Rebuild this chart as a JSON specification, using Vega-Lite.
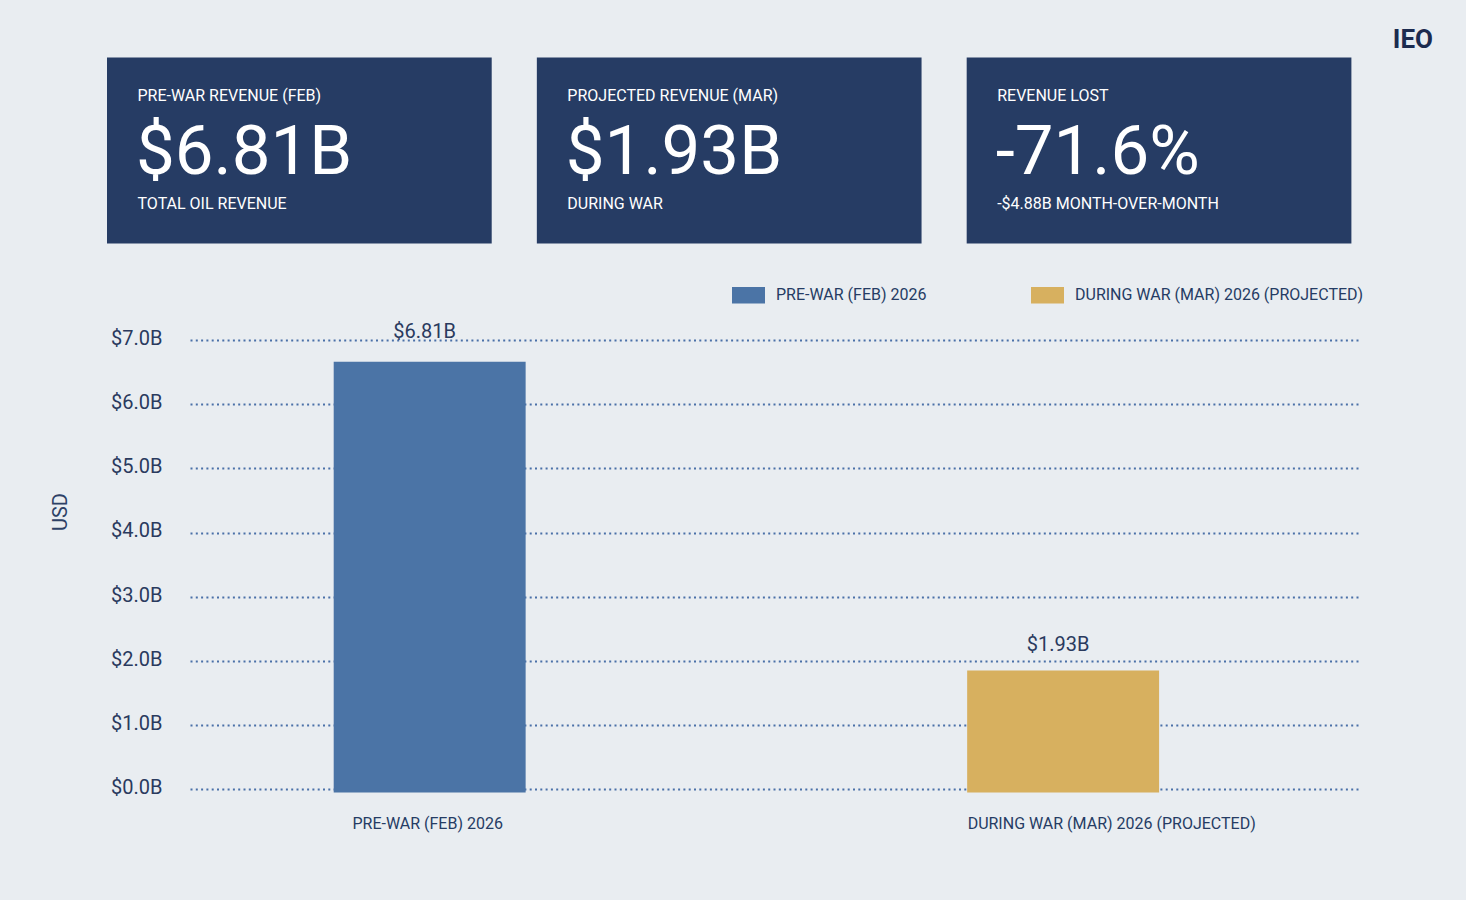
{
  "$schema": "https://vega.github.io/schema/vega-lite/v6.json",
  "background": "#e9edf1",
  "padding": {"left": 50, "top": 26.5, "right": 34, "bottom": 69},
  "config": {"font": "Roboto", "view": {"stroke": null}},
  "title": {"text": "IEO", "anchor": "end", "frame": "bounds", "dx": 69, "offset": -16.5, "baseline": "alphabetic", "fontSize": 26, "fontWeight": "bold", "color": "#1c2b4f", "font": "Roboto"},
  "bounds": "flush",
  "spacing": 96.5,
  "vconcat": [
    {
      "width": 1244.4,
      "height": 186,
      "data": {"values": [
        {"card": "pre", "label": "PRE-WAR REVENUE (FEB)", "value": "$6.81B", "note": "TOTAL OIL REVENUE"},
        {"card": "proj", "label": "PROJECTED REVENUE (MAR)", "value": "$1.93B", "note": "DURING WAR"},
        {"card": "lost", "label": "REVENUE LOST", "value": "-71.6%", "note": "-$4.88B MONTH-OVER-MONTH"}
      ]},
      "encoding": {"x": {"field": "card", "type": "nominal", "sort": null, "scale": {"paddingInner": 0.105, "paddingOuter": 0}, "axis": null}},
      "layer": [
        {"mark": {"type": "rect", "color": "#263c64"}},
        {
          "mark": {"type": "text", "align": "left", "baseline": "middle", "dx": 30.5, "dy": 1, "fontSize": 16, "color": "#ffffff"},
          "encoding": {
            "x": {"field": "card", "type": "nominal", "sort": null, "bandPosition": 0, "axis": null},
            "y": {"datum": "label", "type": "nominal", "scale": {"type": "point", "domain": ["label", "value", "note"], "padding": 0.69}, "axis": null},
            "text": {"field": "label"}
          }
        },
        {
          "mark": {"type": "text", "align": "left", "baseline": "middle", "dx": 29, "dy": 2, "fontSize": 69, "color": "#ffffff"},
          "encoding": {
            "x": {"field": "card", "type": "nominal", "sort": null, "bandPosition": 0, "axis": null},
            "y": {"datum": "value", "type": "nominal", "axis": null},
            "text": {"field": "value"}
          }
        },
        {
          "mark": {"type": "text", "align": "left", "baseline": "middle", "dx": 30.5, "dy": -2, "fontSize": 16, "color": "#ffffff"},
          "encoding": {
            "x": {"field": "card", "type": "nominal", "sort": null, "bandPosition": 0, "axis": null},
            "y": {"datum": "note", "type": "nominal", "axis": null},
            "text": {"field": "note"}
          }
        }
      ]
    },
    {
      "bounds": "flush",
      "spacing": 0,
      "hconcat": [
        {
          "width": 83,
          "height": 452.5,
          "data": {"values": [{}]},
          "mark": {"type": "text"},
          "encoding": {"text": {"value": ""}}
        },
        {
          "width": 1170,
          "height": 452.5,
          "data": {"values": [
            {"period": "PRE-WAR (FEB) 2026", "revenue": 6.81, "label": "$6.81B"},
            {"period": "DURING WAR (MAR) 2026 (PROJECTED)", "revenue": 1.93, "label": "$1.93B"}
          ]},
          "encoding": {
            "x": {
              "field": "period", "type": "nominal", "sort": null,
              "scale": {"paddingInner": 0.697, "paddingOuter": 0.272, "align": 0.417},
              "axis": {
                "title": null, "ticks": false, "domain": false, "labelAngle": 0,
                "labelFontSize": 16, "labelColor": "#253c64", "labelPadding": 22.5, "labelLimit": 0,
                "labelAlign": {"condition": {"test": "datum.value === 'DURING WAR (MAR) 2026 (PROJECTED)'", "value": "left"}, "value": "center"},
                "labelOffset": {"condition": {"test": "datum.value === 'DURING WAR (MAR) 2026 (PROJECTED)'", "value": -95.5}, "value": -2}
              }
            }
          },
          "layer": [
            {
              "mark": {"type": "bar", "opacity": 1},
              "encoding": {
                "y": {"field": "revenue", "type": "quantitative", "scale": {"domain": [0, 7.155], "nice": false}, "axis": null},
                "color": {
                  "field": "period", "type": "nominal", "sort": null,
                  "scale": {"range": ["#4b74a6", "#d7b05f"]},
                  "legend": {
                    "orient": "none", "legendX": 625, "legendY": 221, "direction": "horizontal", "title": null,
                    "symbolType": "M-1,-0.5H1V0.5H-1Z", "symbolSize": 1089, "symbolStrokeWidth": 0, "symbolOpacity": 1,
                    "labelFontSize": 16, "labelColor": "#253c64", "labelOffset": 11, "columnPadding": 104, "padding": 0, "labelLimit": 0
                  }
                }
              }
            },
            {
              "mark": {"type": "text", "baseline": "middle", "dy": -20.5, "dx": -5, "fontSize": 20, "color": "#2a3a5e"},
              "encoding": {
                "y": {
                  "field": "revenue", "type": "quantitative",
                  "scale": {"domain": [-0.0514, 7], "nice": false, "zero": false},
                  "axis": {
                    "orient": "left", "values": [0, 1, 2, 3, 4, 5, 6, 7],
                    "labelExpr": "'$' + format(datum.value, '.1f') + 'B'",
                    "labelFontSize": 20, "labelColor": "#2a3a5e", "labelPadding": 28, "labelOffset": -1.6, "labelBaseline": "middle",
                    "ticks": false, "domain": false,
                    "grid": true, "gridColor": "#4a70a8", "gridDash": [2, 3.3], "gridWidth": 2,
                    "title": "USD", "titleFontSize": 20, "titleFontWeight": "normal", "titleColor": "#2d4166",
                    "titleX": -130, "titleY": 171.5, "titleAngle": -90, "titleAlign": "center", "titleBaseline": "middle"
                  }
                },
                "text": {"field": "label"}
              }
            }
          ],
          "resolve": {"scale": {"y": "independent"}, "axis": {"y": "independent"}}
        }
      ]
    }
  ]
}
